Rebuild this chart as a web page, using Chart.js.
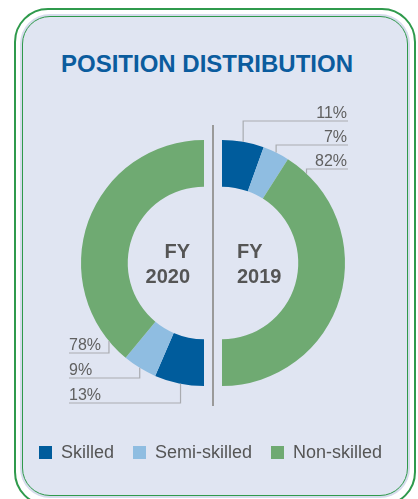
<!DOCTYPE html>
<html>
<head>
<meta charset="utf-8">
<script src="https://cdn.jsdelivr.net/npm/chart.js@4"></script>
<style>
  body { margin: 0; background: #fff; font-family: "Liberation Sans", Arial, sans-serif; }
  #wrap { position: relative; width: 418px; height: 499px; overflow: hidden; }
  .outer {
    position: absolute; left: 14px; top: 8px; width: 398px; height: 494px;
    border: 2px solid #2f9a4c; border-radius: 34px; background: #fff;
  }
  .inner {
    position: absolute; left: 22px; top: 16px; width: 384px; height: 478px;
    border: 1.5px solid #2f9a4c; border-radius: 28px; background: #e0e5f2;
    box-shadow: 0 0 0 2px #d6dcec;
  }
  .title {
    position: absolute; left: 0; width: 414px; top: 50px; text-align: center;
    font-weight: bold; font-size: 24px; color: #0b5c9e; letter-spacing: 0;
  }
  .divider { position: absolute; left: 212px; top: 125px; width: 2px; height: 281px; background: #9a9a9a; }
  canvas { position: absolute; left: 0; top: 0; }
  .legend { position: absolute; top: 441px; left: 0; font-size: 18px; color: #555; }
  .legend span { position: absolute; white-space: nowrap; line-height: 22px; }
  .legend i { position: absolute; width: 13px; height: 13px; top: 5px; }
</style>
</head>
<body>
<div id="wrap">
  <div class="outer"></div>
  <div class="inner"></div>
  <div class="title">POSITION DISTRIBUTION</div>
  <div class="divider"></div>
  <canvas id="left" width="418" height="499"></canvas>
  <canvas id="right" width="418" height="499"></canvas>
  <div class="legend" id="legend"></div>
</div>
<script>
const segments = ["Skilled", "Semi-skilled", "Non-skilled"];
const fy2020 = [13, 9, 78];
const fy2019 = [11, 7, 82];
const yearLabels = ["FY 2020", "FY 2019"];

const segmentColors = ["#005c9c", "#8fbde1", "#6faa72"];

Chart.defaults.font.family = '"Liberation Sans", Arial, sans-serif';

// leader lines + percent labels, plus the year in the hole
const calloutPlugin = {
    id: "callouts",
    afterDraw(chart, args, opts) {
        const ctx = chart.ctx;
        const meta = chart.getDatasetMeta(0);
        const values = chart.data.datasets[0].data;
        const maxStep = 11 * Math.PI / 180;

        ctx.save();
        meta.data.forEach((arc, i) => {
            const p = arc.getProps(["x", "y", "startAngle", "endAngle", "outerRadius"], true);
            const span = p.endAngle - p.startAngle;
            const a = p.startAngle + Math.min(span / 2, maxStep);
            const px = p.x + p.outerRadius * Math.cos(a);
            const py = p.y + p.outerRadius * Math.sin(a);

            let rowY, endX, textX;
            if (opts.side === "right") {
                rowY = p.y - p.outerRadius - 19 + i * 24;
                endX = p.x + p.outerRadius + 3;
                textX = endX - 1;
            } else {
                rowY = p.y + p.outerRadius + 17 - i * 25;
                endX = p.x - p.outerRadius - 12;
                textX = endX;
            }

            ctx.strokeStyle = "#a9abb0";
            ctx.lineWidth = 1.2;
            ctx.beginPath();
            ctx.moveTo(px, py);
            ctx.lineTo(px, rowY);
            ctx.lineTo(endX, rowY);
            ctx.stroke();

            ctx.fillStyle = "#606060";
            ctx.font = '16px "Liberation Sans", Arial, sans-serif';
            ctx.textAlign = opts.side === "right" ? "right" : "left";
            ctx.textBaseline = "alphabetic";
            ctx.fillText(values[i] + "%", textX, rowY - 3.5);
        });

        // year label inside the hole
        const c = meta.data[0];
        const words = opts.year.split(" ");
        ctx.fillStyle = "#555";
        ctx.font = 'bold 20px "Liberation Sans", Arial, sans-serif';
        ctx.textBaseline = "middle";
        ctx.textAlign = opts.side === "right" ? "left" : "right";
        const tx = opts.side === "right" ? c.x + 15 : c.x - 14;
        ctx.fillText(words[0], tx, c.y - 11);
        ctx.fillText(words[1], tx, c.y + 14);
        ctx.restore();
    }
};

function halfDonut(canvasId, values, rotation, padding, side, year) {
    return new Chart(document.getElementById(canvasId), {
        type: "doughnut",
        data: {
            labels: segments,
            datasets: [{
                data: values,
                backgroundColor: segmentColors,
                borderWidth: 0,
                hoverOffset: 0
            }]
        },
        options: {
            responsive: false,
            animation: false,
            events: [],
            rotation: rotation,
            circumference: 180,
            cutout: "62%",
            layout: { padding: padding },
            plugins: {
                legend: { display: false },
                tooltip: { enabled: false },
                callouts: { side: side, year: year }
            }
        },
        plugins: [calloutPlugin]
    });
}

// left half starts at the bottom and runs clockwise up the left side
halfDonut("left", fy2020, 180, { left: 81, right: 214, top: 140, bottom: 113 }, "left", yearLabels[0]);
// right half starts at the top and runs down the right side
halfDonut("right", fy2019, 0, { left: 222, right: 73, top: 140, bottom: 113 }, "right", yearLabels[1]);

// legend row
const legendX = [39, 133, 271];
const legend = document.getElementById("legend");
segments.forEach((name, i) => {
    const sw = document.createElement("i");
    sw.style.left = legendX[i] + "px";
    sw.style.background = segmentColors[i];
    legend.appendChild(sw);
    const label = document.createElement("span");
    label.style.left = (legendX[i] + 22) + "px";
    label.textContent = name;
    legend.appendChild(label);
});
</script>
</body>
</html>
